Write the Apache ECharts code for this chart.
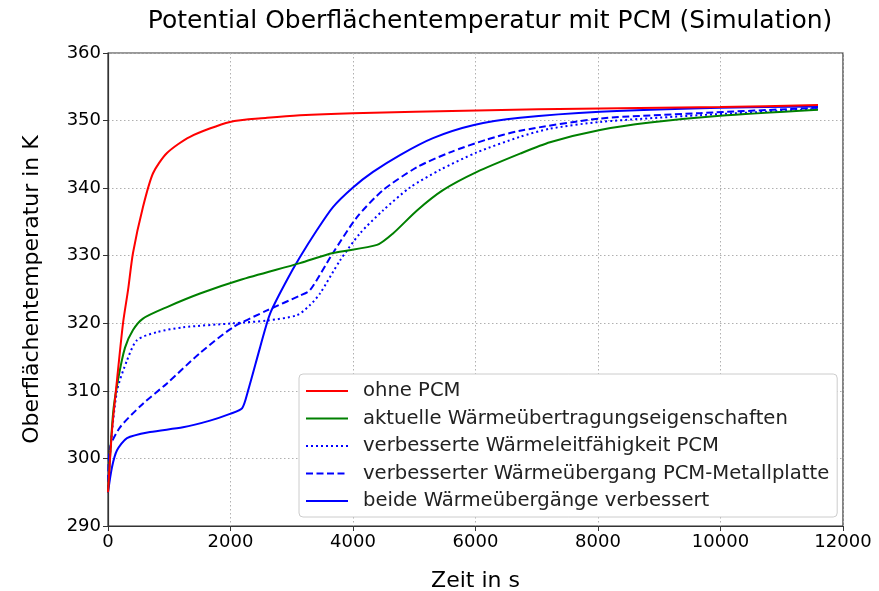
<!DOCTYPE html>
<html><head><meta charset="utf-8">
<script src="https://cdn.jsdelivr.net/npm/echarts@6/dist/echarts.min.js"></script>
<style>html,body{margin:0;padding:0;background:#fff}#c{width:879px;height:591px}</style>
</head><body><div id="c"></div>
<script>
const seriesNames = [
  "ohne PCM",
  "aktuelle Wärmeübertragungseigenschaften",
  "verbesserte Wärmeleitfähigkeit PCM",
  "verbesserter Wärmeübergang PCM-Metallplatte",
  "beide Wärmeübergänge verbessert"
];
// [Zeit in s, Temperatur in K]
const ohnePCM = [[0,295],[65,304.1],[147,311.6],[245,320],[327,324.9],[408,330.4],[571,337.2],[735,342.2],[963,345.2],[1339,347.6],[1992,349.8],[2596,350.4],[3135,350.8],[4000,351.1],[6024,351.5],[8033,351.8],[9992,352.0],[11592,352.3]];
const aktuell = [[0,295],[82,306.6],[163,311.6],[278,316.4],[408,319],[571,320.7],[963,322.4],[1502,324.4],[2155,326.4],[3135,328.9],[3673,330.4],[4392,331.6],[4653,333.3],[5045,336.7],[5469,339.7],[6024,342.4],[6727,345.1],[7216,346.8],[8033,348.6],[8849,349.7],[9992,350.7],[11592,351.6]];
const leitfaehigkeit = [[0,295],[33,300.7],[147,310],[310,314.5],[473,317.5],[800,318.7],[1224,319.4],[2041,320],[2596,320.4],[3086,321.2],[3298,322.7],[3461,324.4],[3788,329.3],[4114,333.3],[4490,336.7],[4931,340.1],[5420,342.7],[6024,345.3],[6727,347.6],[7216,348.8],[8033,349.8],[9665,350.8],[11592,351.7]];
const uebergang = [[0,295],[33,301.6],[196,304.6],[571,308.1],[963,311.1],[1502,315.6],[2041,319.4],[2596,321.9],[3135,324.1],[3298,324.9],[3673,330.4],[4065,335.7],[4490,339.7],[5045,343.1],[5584,345.3],[6188,347.2],[6727,348.5],[8033,350.3],[9665,351.1],[11592,351.9]];
const beide = [[0,295],[65,298.7],[147,301.2],[310,303],[686,303.9],[1224,304.6],[1665,305.6],[1992,306.6],[2188,307.4],[2286,310],[2482,316.4],[2645,321.4],[2922,326.4],[3135,329.8],[3412,333.8],[3673,337.2],[4000,340.1],[4327,342.4],[4767,344.9],[5306,347.4],[5959,349.3],[6727,350.4],[8033,351.3],[9992,351.9],[11592,352.1]];
const xTicks = [0, 12000, 2000];
const yTicks = [290, 360, 10];

const colors = ['#ff0000', '#008000', '#0000ff', '#0000ff', '#0000ff'];
const lineTypes = ['solid', 'solid', [2, 3], [7, 3.5], 'solid'];
const datas = [ohnePCM, aktuell, leitfaehigkeit, uebergang, beide];

const font = 'DejaVu Sans';
const chart = echarts.init(document.getElementById('c'));
chart.setOption({
  animation: false,
  title: {
    text: 'Potential Oberflächentemperatur mit PCM (Simulation)',
    left: 485, top: 4, textAlign: 'center',
    textStyle: {fontFamily: font, fontWeight: 'normal', fontSize: 25, color: '#000'}
  },
  grid: {left: 108, right: 36, top: 53, bottom: 65, outerBoundsMode: 'none', containLabel: false, show: true, borderColor: '#333', borderWidth: 1.2, backgroundColor: 'transparent'},
  legend: {
    show: true,
    orient: 'vertical', left: 299, top: 374,
    backgroundColor: '#ffffff', borderColor: '#cccccc', borderWidth: 1, borderRadius: 4,
    padding: [7, 8, 6, 6],
    itemWidth: 42, itemHeight: 14, itemGap: 7.5,
    itemStyle: {opacity: 0},
    textStyle: {fontFamily: font, fontSize: 19.6, lineHeight: 20, color: '#222', padding: [0, 0, 0, 10]},
    data: seriesNames
  },
  xAxis: {
    type: 'value', min: xTicks[0], max: xTicks[1], interval: xTicks[2],
    name: 'Zeit in s', nameLocation: 'middle', nameGap: 44,
    nameTextStyle: {fontFamily: font, fontSize: 22, color: '#000'},
    axisLine: {show: true, lineStyle: {color: '#333', width: 1.2}},
    axisTick: {show: true, length: 5, lineStyle: {color: '#333'}},
    axisLabel: {fontFamily: font, fontSize: 18, color: '#000', margin: 7, formatter: v => String(v)},
    splitLine: {show: true, lineStyle: {color: '#b0b0b0', type: [1.5, 2.5], width: 1}}
  },
  yAxis: {
    type: 'value', min: yTicks[0], max: yTicks[1], interval: yTicks[2],
    name: 'Oberflächentemperatur in K', nameLocation: 'middle', nameGap: 65,
    nameTextStyle: {fontFamily: font, fontSize: 22, color: '#000'},
    axisLine: {show: true, lineStyle: {color: '#333', width: 1.2}},
    axisTick: {show: true, length: 5, lineStyle: {color: '#333'}},
    axisLabel: {fontFamily: font, fontSize: 18, color: '#000', margin: 7, formatter: v => String(v)},
    splitLine: {show: true, lineStyle: {color: '#b0b0b0', type: [1.5, 2.5], width: 1}}
  },
  series: datas.map((d, i) => ({
    name: seriesNames[i], type: 'line', data: d, showSymbol: false, symbol: 'none',
    smooth: 0.25, z: 2 + (4 - i),
    lineStyle: {color: colors[i], width: 2, type: lineTypes[i]},
    itemStyle: {color: colors[i]}
  }))
});
</script>
</body></html>
